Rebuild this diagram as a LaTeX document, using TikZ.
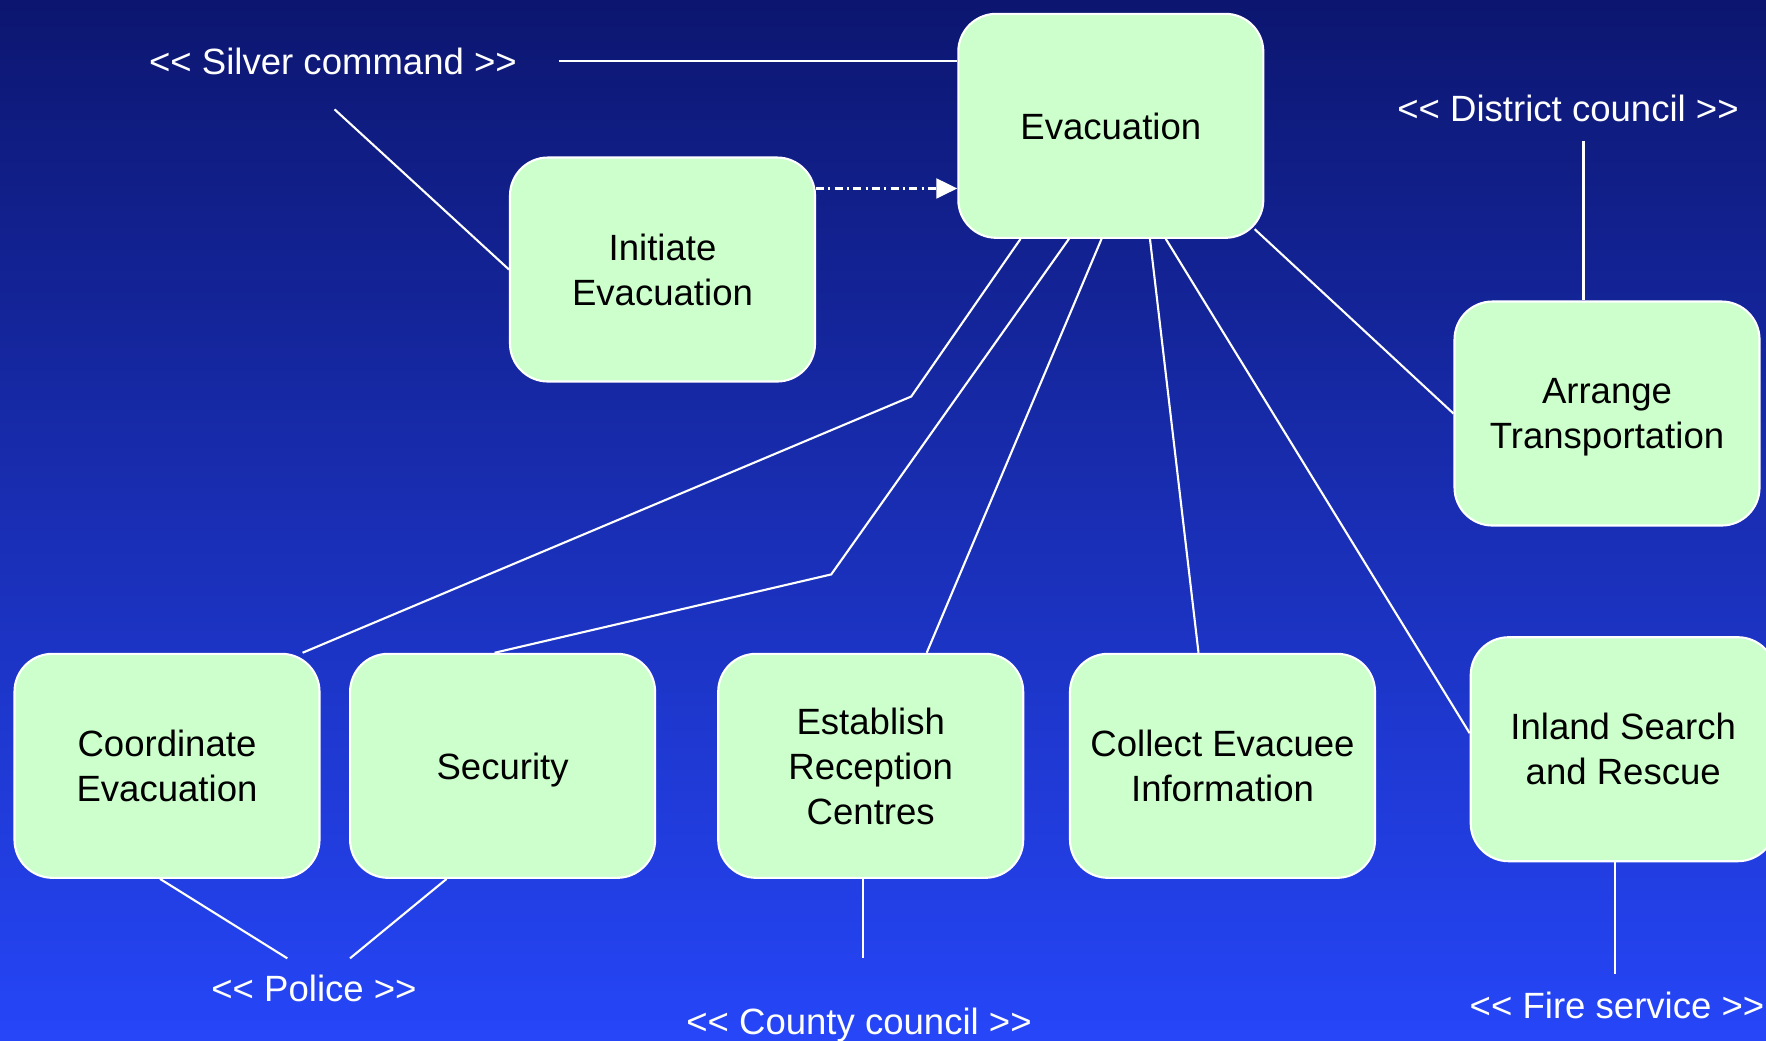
\documentclass[tikz,border=0pt]{standalone}
\usepackage{fontspec}
\setmainfont{Liberation Sans}
% plain family without TeX ligatures, so that << stays two characters
\newfontfamily\rolefont{Liberation Sans}
\usetikzlibrary{calc,arrows.meta}

\definecolor{skytop}{RGB}{12,22,112}
\definecolor{skybottom}{RGB}{38,70,248}
\definecolor{boxgreen}{RGB}{204,255,204}

\tikzset{
  task/.style={draw=white, line width=0.6pt, fill=boxgreen, rounded corners=3.8mm,
    minimum width=30.5mm, minimum height=22.4mm, inner sep=0pt, align=center,
    text depth=0pt, text=black, font=\fontsize{10.4}{12.8}\selectfont},
  role/.style={text=white, anchor=base, inner sep=0pt,
    font=\rolefont\fontsize{10.4}{12.8}\selectfont},
  link/.style={draw=white, line width=0.6pt},
  flow/.style={draw=white, line width=0.6pt,
    dash pattern=on 2.3pt off 1.2pt on 0.6pt off 1.2pt,
    -{Triangle[length=2.1mm,width=2.0mm,fill=white]}}
}

\begin{document}
\begin{tikzpicture}[x=0.1mm, y=-0.1mm]
  % page and background
  \useasboundingbox (0,0) rectangle (1766,1040);
  \clip (0,0) rectangle (1766,1040);
  \shade[top color=skytop, bottom color=skybottom] (0,0) rectangle (1766,1040);

  % activities
  \node[task] (evac)  at (1110.8,125.8) {Evacuation};
  \node[task] (init)  at (662.5,269.5)  {Initiate\\Evacuation};
  \node[task] (arr)   at (1607,413.5)   {Arrange\\Transportation};
  \node[task] (coord) at (167,765.8)    {Coordinate\\Evacuation};
  \node[task] (sec)   at (502.6,765.8)  {Security};
  \node[task] (est)   at (870.7,765.8)  {Establish\\Reception\\Centres};
  \node[task] (coll)  at (1222.5,765.8) {Collect Evacuee\\Information};
  \node[task] (inl)   at (1623.2,749.2) {Inland Search\\and Rescue};

  % responsible organisations
  \node[role] (silver)   at (333,74)     {<< Silver command >>};
  \node[role] (district) at (1568,121.7) {<< District council >>};
  \node[role] (police)   at (314,1001.7) {<< Police >>};
  \node[role] (county)   at (859,1034)   {<< County council >>};
  \node[role] (fire)     at (1617,1018)  {<< Fire service >>};

  % free ends of the role connectors
  \coordinate (silverA) at (558.6,61);
  \coordinate (silverB) at (334.5,109.3);
  \coordinate (districtA) at (1583.5,141);
  \coordinate (policeA) at (287.3,958.3);
  \coordinate (policeB) at (350,958.3);
  \coordinate (countyA) at (862.7,958.3);
  \coordinate (fireA) at (1615,974);

  % role connectors
  \draw[link] (silverA) -- (silverA -| evac.west);
  \draw[link] (silverB) -- (init.west);
  \draw[link] (districtA) -- (districtA |- arr.north);
  \draw[link] ($(coord.south)+(-7,0)$) -- (policeA);
  \draw[link] ($(sec.south)+(-56,0)$) -- (policeB);
  \draw[link] (countyA |- est.south) -- (countyA);
  \draw[link] (fireA |- inl.south) -- (fireA);

  % sub-activities of the evacuation
  \draw[link] ($(evac.south west)+(63.3,0)$) -- (911.2,396.5)
              -- ($(coord.north east)+(-18,0)$);
  \draw[link] ($(evac.south west)+(111.7,0)$) -- (831.2,574.4)
              -- ($(sec.north)+(-8,0)$);
  \draw[link] ($(evac.south west)+(144.3,0)$) -- ($(est.north)+(56,0)$);
  \draw[link] ($(evac.south west)+(192.7,0)$) -- ($(coll.north)+(-24,0)$);
  \draw[link] ($(evac.south west)+(208.5,0)$) -- ($(inl.west)+(0,-16)$);
  \draw[link] ($(evac.south east)+(-9.7,-9.7)$) -- (arr.west);

  % trigger
  \draw[flow] ($(init.north east)+(0,32)$) coordinate (trig) -- (trig -| evac.west);
\end{tikzpicture}
\end{document}
